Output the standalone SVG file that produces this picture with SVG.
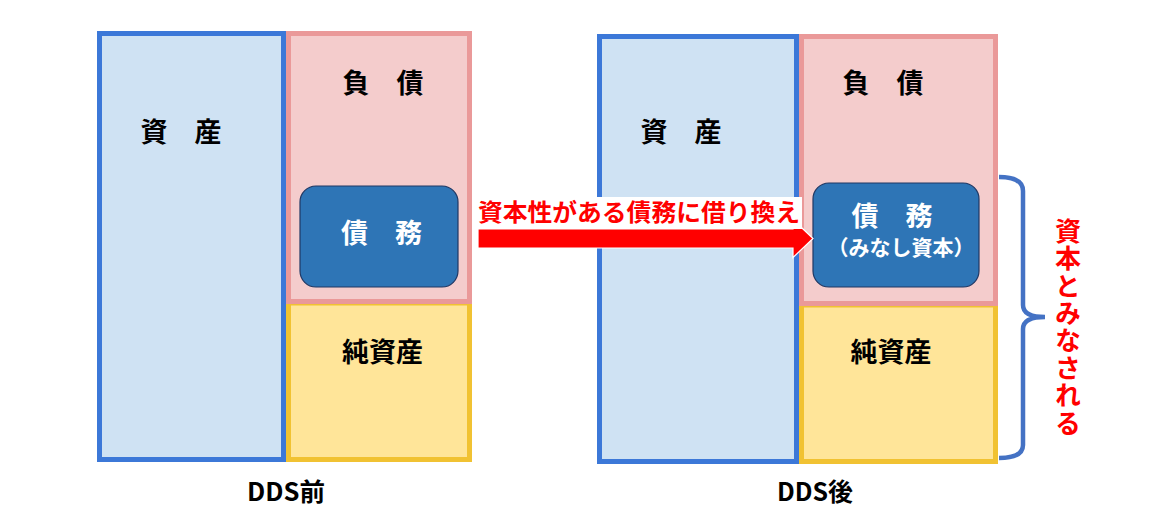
<svg xmlns="http://www.w3.org/2000/svg" width="1167" height="516" viewBox="0 0 1167 516">
<style>
.asset{fill:#CFE2F3;stroke:#3C78D8;stroke-width:5}
.liab{fill:#F4CCCC;stroke:#EA9999;stroke-width:5}
.net{fill:#FFE599;stroke:#F1C232;stroke-width:5}
.debt{fill:#2E75B6;stroke:#1F3864;stroke-width:1.2}
.t{font-family:"Noto Sans CJK JP","Noto Sans",sans-serif;font-weight:bold;text-anchor:middle}
.k{fill:#000;font-size:27px}
.w{fill:#fff;font-size:27px}
.ws{fill:#fff;font-size:21px}
.cap{fill:#000;font-size:25px}
.red{fill:#FF0000;font-size:24px}
</style>
<rect width="1167" height="516" fill="#fff"/>
<g id="before">
  <g id="b-asset"><rect class="asset" x="99.5" y="33.5" width="184" height="426"/><text class="t k" x="181" y="142">資　産</text></g>
  <g id="b-net"><rect class="net" x="288.5" y="303" width="181" height="156.5"/><text class="t k" x="382.5" y="362">純資産</text></g>
  <g id="b-liab"><rect class="liab" x="288.5" y="33.5" width="181" height="268"/><text class="t k" x="383" y="93">負　債</text></g>
  <g id="b-debt"><rect class="debt" x="300" y="186" width="158" height="101" rx="16"/><text class="t w" x="381.5" y="243">債　務</text></g>
  <text id="b-cap" class="t cap" x="286" y="501" textLength="78" lengthAdjust="spacingAndGlyphs">DDS前</text>
</g>
<g id="after">
  <g id="a-asset"><rect class="asset" x="599.5" y="36.5" width="197" height="425"/><text class="t k" x="681" y="142">資　産</text></g>
  <g id="a-net"><rect class="net" x="801.5" y="305" width="194" height="156.5"/><text class="t k" x="891" y="362">純資産</text></g>
  <g id="a-liab"><rect class="liab" x="801.5" y="36.5" width="194" height="267"/><text class="t k" x="883" y="93">負　債</text></g>
  <g id="a-debt"><rect class="debt" x="813" y="183" width="166" height="104" rx="16"/><text class="t w" x="892" y="226">債　務</text><text class="t ws" x="901" y="255">（みなし資本）</text></g>
  <text id="a-cap" class="t cap" x="815" y="501" textLength="76" lengthAdjust="spacingAndGlyphs">DDS後</text>
</g>
<g id="connectors">
  <polygon points="478,229 793,229 793,219.5 813,238.5 793,257.5 793,248 478,248" fill="#FF0000" stroke="#fff" stroke-width="1.2"/>
  <rect x="473" y="197" width="329" height="32" fill="#fff"/>
  <text class="t red" x="639" y="221" textLength="322" lengthAdjust="spacingAndGlyphs">資本性がある債務に借り換え</text>
  <path d="M999,177 Q1023,177 1023,191 L1023,305 Q1023,317 1045,317 Q1023,317 1023,329 L1023,445 Q1023,458 999,458" fill="none" stroke="#4472C4" stroke-width="4.5"/>
</g>
<g id="label-capital">
  <text x="1068" y="218" writing-mode="vertical-rl" style="font-family:'Noto Sans CJK JP','Noto Sans',sans-serif;font-weight:bold;font-size:26px;fill:#FF0000;letter-spacing:1.4px">資本とみなされる</text>
</g>
</svg>
